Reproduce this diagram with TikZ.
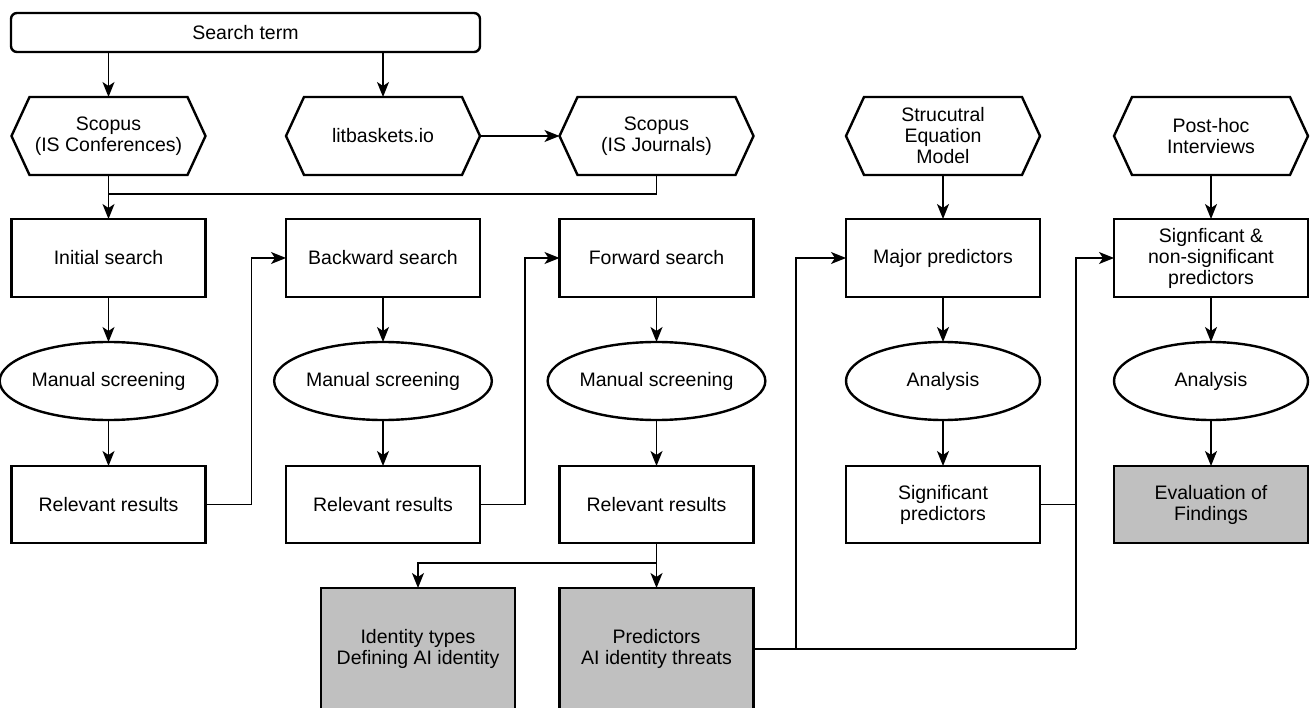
\documentclass[tikz,border=0pt]{standalone}
\usepackage{fontspec}
\setmainfont{Liberation Sans}
\usetikzlibrary{arrows.meta,shapes.geometric,calc}
\definecolor{boxgray}{RGB}{192,192,192}
\begin{document}
\begin{tikzpicture}[x=1pt,y=-1pt,
  every node/.style={font=\fontsize{19.5}{21}\selectfont, align=center, inner sep=0pt, outer sep=0pt},
  box/.style={draw, line width=2.6pt, minimum width=194pt, minimum height=78pt},
  graybox/.style={box, fill=boxgray},
  oval/.style={ellipse, draw, line width=2.4pt, minimum width=194pt, minimum height=78pt},
  hexnode/.style={minimum width=194pt, minimum height=78pt},
  hexline/.style={line width=2.4pt, line join=miter},
  conn/.style={line width=1.5pt},
  arr/.style={conn, -{Stealth[length=15pt,width=12pt,inset=4pt]}},
]
\useasboundingbox (0,0) rectangle (1311,708);

% top
\node[draw, rounded corners=6pt, line width=2.4pt, minimum width=469pt, minimum height=39pt] (st) at (245.5,32.5) {Search term};

% hexagons
\node[hexnode] (sc) at (108.5,136) {Scopus\\(IS Conferences)};
\node[hexnode] (lb) at (383,136) {litbaskets.io};
\node[hexnode] (sj) at (656.5,136) {Scopus\\(IS Journals)};
\node[hexnode] (sem) at (943,136) {Strucutral\\Equation\\Model};
\node[hexnode] (ph) at (1211,136) {Post-hoc\\Interviews};
\foreach \n in {sc,lb,sj,sem,ph}
  \draw[hexline] (\n.west) -- ([xshift=18pt]\n.north west) -- ([xshift=-18pt]\n.north east)
    -- (\n.east) -- ([xshift=-18pt]\n.south east) -- ([xshift=18pt]\n.south west) -- cycle;

% row 1
\node[box] (init) at (108.5,258) {Initial search};
\node[box] (bs) at (383,258) {Backward search};
\node[box] (fs) at (656.5,258) {Forward search};
\node[box] (mp) at (943,258) {Major predictors};
\node[box] (sig) at (1211,258) {Signficant \&\\non-significant\\predictors};

% row 2
\node[oval] (ms1) at (108.5,381) {Manual screening};
\node[oval] (ms2) at (383,381) {Manual screening};
\node[oval] (ms3) at (656.5,381) {Manual screening};
\node[oval] (an1) at (943,381) {Analysis};
\node[oval] (an2) at (1211,381) {Analysis};

% row 3
\node[box, minimum height=77pt] (rr1) at (108.5,504.5) {Relevant results};
\node[box, minimum height=77pt] (rr2) at (383,504.5) {Relevant results};
\node[box, minimum height=77pt] (rr3) at (656.5,504.5) {Relevant results};
\node[box, minimum height=77pt] (sp) at (943,504.5) {Significant\\predictors};
\node[graybox, minimum height=77pt] (ev) at (1211,504.5) {Evaluation of\\Findings};

% gray bottom
\node[graybox, minimum height=122pt] (id) at (418,649) {Identity types\\Defining AI identity};
\node[graybox, minimum height=122pt] (pr) at (656.5,649) {Predictors\\AI identity threats};

% connectors
\draw[arr] (st.south -| sc.north) -- (sc.north);
\draw[arr] (st.south -| lb.north) -- (lb.north);
\draw[arr] (lb.east) -- (sj.west);
\coordinate (m) at (108.5,194);
\draw[conn] (sc.south) -- (m);
\draw[conn] (sj.south) |- (m);
\draw[arr] (m) -- (init.north);

\foreach \a/\b in {init/ms1,ms1/rr1,bs/ms2,ms2/rr2,fs/ms3,ms3/rr3,sem/mp,mp/an1,an1/sp,ph/sig,sig/an2,an2/ev}
  \draw[arr] (\a.south) -- (\b.north);

\draw[arr] (rr1.east) -- ++(46,0) |- (bs.west);
\draw[arr] (rr2.east) -- ++(45,0) |- (fs.west);

\coordinate (sp3) at (656.5,563);
\draw[conn] (rr3.south) -- (sp3);
\draw[arr] (sp3) -- (pr.north);
\draw[arr] (sp3) -| (id.north);

\coordinate (j1) at (796,649);
\coordinate (j2) at (1076,649);
\draw[conn] (pr.east) -- (j2);
\draw[arr] (j1) |- (mp.west);
\draw[arr] (j2) |- (sig.west);
\draw[conn] (sp.east) -- (sp.east -| j2);
\end{tikzpicture}
\end{document}
